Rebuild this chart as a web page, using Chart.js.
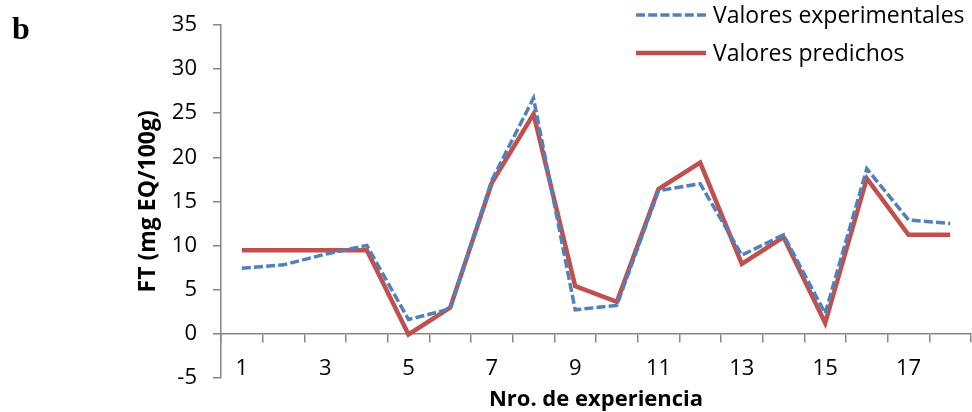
<!DOCTYPE html>
<html>
<head>
<meta charset="utf-8">
<script src="https://cdn.jsdelivr.net/npm/chart.js@4"></script>
<style>
  html, body { margin: 0; padding: 0; background: #fff; }
  #wrap { width: 972px; height: 412px; }
</style>
</head>
<body>
<div id="wrap"><canvas id="ftChart" width="972" height="412"></canvas></div>
<script>
const experiencias = ['1', '2', '3', '4', '5', '6', '7', '8', '9', '10', '11', '12', '13', '14', '15', '16', '17', '18'];
const experimentales = [7.4, 7.8, 9.0, 10.0, 1.6, 2.8, 17.4, 26.7, 2.7, 3.2, 16.2, 17.0, 8.9, 11.2, 2.3, 18.7, 12.9, 12.5];
const predichos = [9.45, 9.45, 9.45, 9.45, -0.1, 2.95, 17.1, 24.9, 5.4, 3.6, 16.4, 19.4, 7.9, 10.95, 1.2, 17.6, 11.2, 11.2];
const yTicks = [-5, 0, 5, 10, 15, 20, 25, 30, 35];

const FONT = "'Open Sans', sans-serif";
const AXIS_GRAY = '#868686';

// panel letter + legend drawn on top, Excel style
const extras = {
    id: 'extras',
    afterDraw(chart) {
        const ctx = chart.ctx;
        ctx.save();
        ctx.fillStyle = '#000';
        ctx.font = "bold 32px 'Liberation Serif'";
        ctx.textBaseline = 'alphabetic';
        ctx.fillText('b', 12, 39);

        const items = [
            { text: 'Valores experimentales', color: '#4F81BD', dash: [9, 3.2], width: 3.5, y: 15 },
            { text: 'Valores predichos', color: '#C0504D', dash: [], width: 4.5, y: 53 }
        ];
        ctx.font = '23px ' + FONT;
        ctx.textBaseline = 'middle';
        items.forEach(it => {
            ctx.beginPath();
            ctx.setLineDash(it.dash);
            ctx.strokeStyle = it.color;
            ctx.lineWidth = it.width;
            ctx.moveTo(636, it.y);
            ctx.lineTo(706, it.y);
            ctx.stroke();
            ctx.fillStyle = '#000';
            ctx.fillText(it.text, 713, it.y + 1);
        });
        ctx.restore();
    }
};

new Chart(document.getElementById('ftChart'), {
    type: 'line',
    data: {
        labels: experiencias,
        datasets: [{
            label: 'Valores experimentales',
            data: experimentales,
            borderColor: '#4F81BD',
            borderWidth: 3.5,
            borderDash: [9, 3.2],
            pointRadius: 0,
            tension: 0,
            fill: false
        }, {
            label: 'Valores predichos',
            data: predichos,
            borderColor: '#C0504D',
            borderWidth: 4.5,
            pointRadius: 0,
            tension: 0,
            fill: false
        }]
    },
    options: {
        responsive: false,
        animation: false,
        layout: { padding: { left: 126, top: 25, right: 1, bottom: 34.3 } },
        plugins: {
            legend: { display: false },
            tooltip: { enabled: false }
        },
        scales: {
            x: {
                position: { y: 0 },
                offset: true,
                grid: {
                    offset: true,
                    drawOnChartArea: false,
                    drawTicks: true,
                    tickLength: 8,
                    color: AXIS_GRAY,
                    lineWidth: 1.5
                },
                border: { display: true, color: AXIS_GRAY, width: 1.5 },
                ticks: {
                    autoSkip: false,
                    maxRotation: 0,
                    padding: 14,
                    color: '#000',
                    font: { family: FONT, size: 22 },
                    callback: (v, i) => (i % 2 === 0 ? experiencias[i] : '')
                },
                title: {
                    display: true,
                    text: 'Nro. de experiencia',
                    color: '#000',
                    font: { family: FONT, size: 22, weight: 'bold' },
                    padding: { top: 0, bottom: -45 }
                },
                afterFit: (scale) => { scale.height = 34.3; }
            },
            y: {
                min: -5,
                max: 35,
                afterBuildTicks: (scale) => { scale.ticks = yTicks.map(v => ({ value: v })); },
                grid: {
                    drawOnChartArea: false,
                    drawTicks: true,
                    tickLength: 8,
                    color: AXIS_GRAY,
                    lineWidth: 1.5
                },
                border: { display: true, color: AXIS_GRAY, width: 1.5 },
                ticks: {
                    padding: 16,
                    color: '#000',
                    font: { family: FONT, size: 22 }
                },
                title: {
                    display: true,
                    text: 'FT (mg EQ/100g)',
                    color: '#000',
                    font: { family: FONT, size: 23, weight: 'bold' },
                    padding: { top: 9, bottom: 0 }
                },
                afterFit: (scale) => {
                    scale.width = 95;
                    scale.paddingTop = 0;
                    scale.paddingBottom = 0;
                }
            }
        }
    },
    plugins: [extras]
});
</script>
</body>
</html>
